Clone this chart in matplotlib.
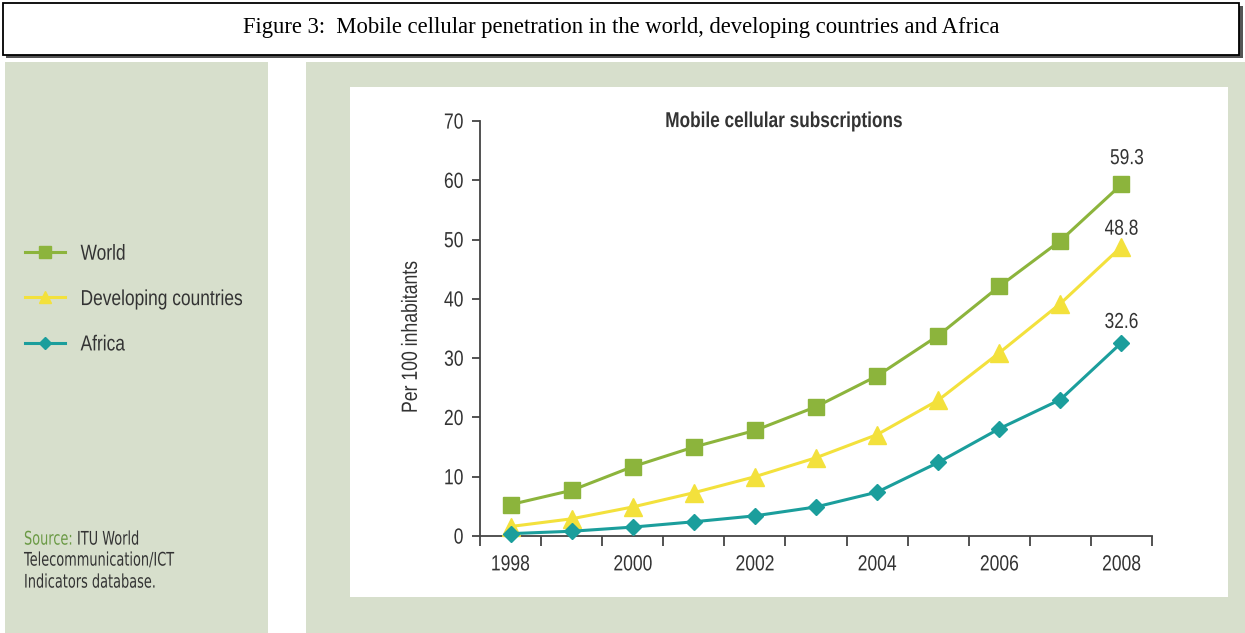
import matplotlib.pyplot as plt
from matplotlib.patches import Rectangle
from matplotlib.lines import Line2D
from matplotlib.patheffects import AbstractPathEffect
from matplotlib.transforms import Affine2D

years = [1998, 1999, 2000, 2001, 2002, 2003, 2004, 2005, 2006, 2007, 2008]
world = [5.3, 7.7, 11.7, 15.0, 17.8, 21.8, 27.0, 33.8, 42.1, 49.8, 59.3]
developing = [1.6, 2.9, 4.9, 7.3, 10.0, 13.2, 17.1, 22.9, 30.9, 39.2, 48.8]
africa = [0.4, 0.8, 1.5, 2.4, 3.4, 4.9, 7.4, 12.4, 18.1, 23.0, 32.6]
year_labels = ["1998", "2000", "2002", "2004", "2006", "2008"]

c_world = "#8cb43c"
c_dev = "#f3e13c"
c_afr = "#1b9e9c"
panel = "#d7dfcc"
txt = "#333333"


class Tall(AbstractPathEffect):
    """Stretch glyphs vertically about the middle of the cap height."""

    def __init__(self, sy=1.25):
        super().__init__()
        self.sy = sy

    def draw_path(self, renderer, gc, tpath, affine, rgbFace=None):
        stretch = Affine2D().translate(0, -36).scale(1, self.sy).translate(0, 36)
        renderer.draw_path(gc, tpath, stretch + affine, rgbFace)


tall = [Tall(1.25)]

W, H = 1245, 633
fig = plt.figure(figsize=(W / 100, H / 100), dpi=100)

# background canvas in pixel units
bg = fig.add_axes([0, 0, 1, 1])
bg.set_xlim(0, W)
bg.set_ylim(H, 0)
bg.axis("off")
bg.add_patch(Rectangle((5, 62), 263, 575, color=panel, lw=0))
bg.add_patch(Rectangle((306, 62), 945, 575, color=panel, lw=0))
bg.add_patch(Rectangle((350, 87), 878, 510, color="white", lw=0))
bg.add_patch(Rectangle((6, 6), 1237, 52, color="#555555", lw=0))
bg.add_patch(Rectangle((3, 3), 1236, 52, facecolor="white", edgecolor="black", lw=1.3))
bg.text(621, 28, "Figure 3:  Mobile cellular penetration in the world, developing countries and Africa",
        ha="center", va="center", fontsize=16.3, family="Liberation Serif", color="black")

sans = ["Liberation Sans", "DejaVu Sans"]

# legend in the left panel
handles = [
    Line2D([], [], color=c_world, lw=2.2, marker="s", markersize=8),
    Line2D([], [], color=c_dev, lw=2.2, marker="^", markersize=9),
    Line2D([], [], color=c_afr, lw=2.2, marker="D", markersize=6),
]
leg = fig.legend(handles, ["World", "Developing countries", "Africa"],
                 loc="upper left", bbox_to_anchor=(25 / W, 1 - 246 / H),
                 frameon=False, handlelength=2.3, handletextpad=0.9,
                 borderpad=0, borderaxespad=0,
                 labelspacing=1.74, prop={"family": sans, "size": 12.5})
for t in leg.get_texts():
    t.set_color(txt)
    t.set_path_effects(tall)

# source note
note = dict(fontsize=9.3, family="DejaVu Sans", va="center", path_effects=[Tall(1.45)])
src = bg.text(24, 539, "Source:", color="#6b9a45", **note)
bg.annotate(" ITU World", xy=(1, 0.5), xycoords=src, color=txt, **note)
bg.text(24, 560, "Telecommunication/ICT", color=txt, **note)
bg.text(24, 582, "Indicators database.", color=txt, **note)

# main chart
ax = fig.add_axes([480 / W, 1 - 536 / H, 672 / W, 415 / H])
ax.patch.set_alpha(0)
x = list(range(len(years)))
ax.plot(x, world, color=c_world, lw=2.2, marker="s", markersize=12, clip_on=False, zorder=3)
ax.plot(x, developing, color=c_dev, lw=2.2, marker="^", markersize=13, clip_on=False, zorder=3)
ax.plot(x, africa, color=c_afr, lw=2.2, marker="D", markersize=8, clip_on=False, zorder=3)

for vals, dx, dy in [(world, 4, 19), (developing, 0, 13), (africa, 0, 15)]:
    ax.annotate(f"{vals[-1]}", (x[-1], vals[-1]), xytext=(dx, dy), textcoords="offset points",
                ha="center", va="center", fontsize=12.5, family=sans, color=txt,
                path_effects=tall)

ax.set_xlim(-0.5, len(years) - 0.5)
ax.set_ylim(0, 70)
ax.set_yticks(range(0, 71, 10))
ax.set_xticks([i - 0.5 for i in range(len(years) + 1)])
ax.set_xticklabels([])
ax.set_xticks([years.index(int(y)) for y in year_labels], minor=True)
ax.set_xticklabels(year_labels, minor=True)
ax.tick_params(axis="x", which="major", length=7, width=1.3, color="#444444")
ax.tick_params(axis="x", which="minor", length=0, pad=15, labelsize=12.6, labelcolor=txt)
ax.tick_params(axis="y", length=6, width=1.3, color="#444444", pad=6, labelsize=12.6, labelcolor=txt)
for lab in ax.get_xticklabels(minor=True) + ax.get_yticklabels():
    lab.set_family(sans)
    lab.set_path_effects(tall)
for s in ["top", "right"]:
    ax.spines[s].set_visible(False)
for s in ["left", "bottom"]:
    ax.spines[s].set_color("#444444")
    ax.spines[s].set_linewidth(1.3)

ax.text(-0.103, 0.48, "Per 100 inhabitants", transform=ax.transAxes, rotation=90,
        ha="center", va="center", fontsize=12.7, family=sans, color=txt, path_effects=tall)
ax.text(0.453, 1.0, "Mobile cellular subscriptions", transform=ax.transAxes,
        ha="center", va="center", fontsize=12.4, family=sans, fontweight="bold",
        color=txt, path_effects=tall)

fig.savefig("out.png", dpi=100)
